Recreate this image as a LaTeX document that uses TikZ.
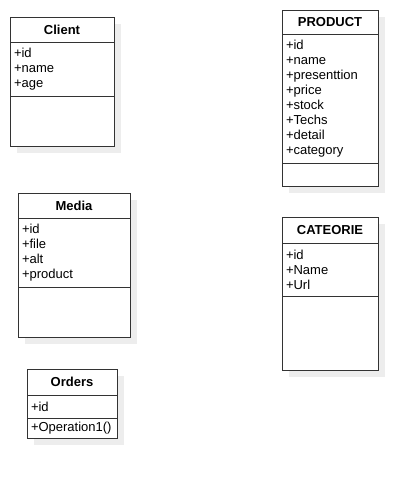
\documentclass[tikz,border=0pt]{standalone}
\usepackage{fontspec}
\setmainfont{Liberation Sans}
\usetikzlibrary{positioning}
\usetikzlibrary{backgrounds}
\tikzset{ %look of the class boxes
  classbox/.style={
    draw=black!80, line width=1pt, fill=white,
    inner xsep=4pt, inner ysep=0pt, outer sep=0pt,
    font=\fontsize{13}{15}\selectfont
  },
  classhead/.style={classbox, font=\bfseries\fontsize{13}{15}\selectfont, align=center},
  classbody/.style={classbox, align=left},
  classshadow/.style={fill=black!7}
}

\begin{document}
\begin{tikzpicture}[x=1pt,y=1pt]
\useasboundingbox (0,0) rectangle (418,-480);

% Client
\node [classhead, text width=96pt, minimum height=25pt, anchor=north west] (client) at (10,-17) {Client};
\node [classbody, text width=96pt, minimum height=54pt, below=0pt of client] (clientattr) {+id\\+name\\+age};
\node [classbody, text width=96pt, minimum height=50pt, below=0pt of clientattr] (clientops) {};

% Media
\node [classhead, text width=104pt, minimum height=25pt, anchor=north west] (media) at (18,-193) {Media};
\node [classbody, text width=104pt, minimum height=69pt, below=0pt of media] (mediaattr) {+id\\+file\\+alt\\+product};
\node [classbody, text width=104pt, minimum height=50pt, below=0pt of mediaattr] (mediaops) {};

% Orders
\node [classhead, text width=82pt, minimum height=26pt, anchor=north west] (orders) at (27,-369) {Orders};
\node [classbody, text width=82pt, minimum height=23pt, below=0pt of orders] (ordersattr) {+id};
\node [classbody, text width=82pt, minimum height=20pt, below=0pt of ordersattr] (ordersops) {+Operation1()};

% PRODUCT
\node [classhead, text width=88pt, minimum height=24pt, anchor=north west] (product) at (282,-10) {PRODUCT};
\node [classbody, text width=88pt, minimum height=129pt, below=0pt of product] (productattr)
  {+id\\+name\\+presenttion\\+price\\+stock\\+Techs\\+detail\\+category};
\node [classbody, text width=88pt, minimum height=23pt, below=0pt of productattr] (productops) {};

% CATEORIE
\node [classhead, text width=88pt, minimum height=26pt, anchor=north west] (categorie) at (282,-217) {CATEORIE};
\node [classbody, text width=88pt, minimum height=53pt, below=0pt of categorie] (categorieattr) {+id\\+Name\\+Url};
\node [classbody, text width=88pt, minimum height=74pt, below=0pt of categorieattr] (categorieops) {};

% shadows behind the boxes
\begin{scope}[on background layer]
  \foreach \top/\bottom in {client/clientops, media/mediaops, orders/ordersops,
                            product/productops, categorie/categorieops}
    \fill [classshadow] ([shift={(7,-7)}]\top.north west) rectangle ([shift={(7,-7)}]\bottom.south east);
\end{scope}
\end{tikzpicture}
\end{document}
